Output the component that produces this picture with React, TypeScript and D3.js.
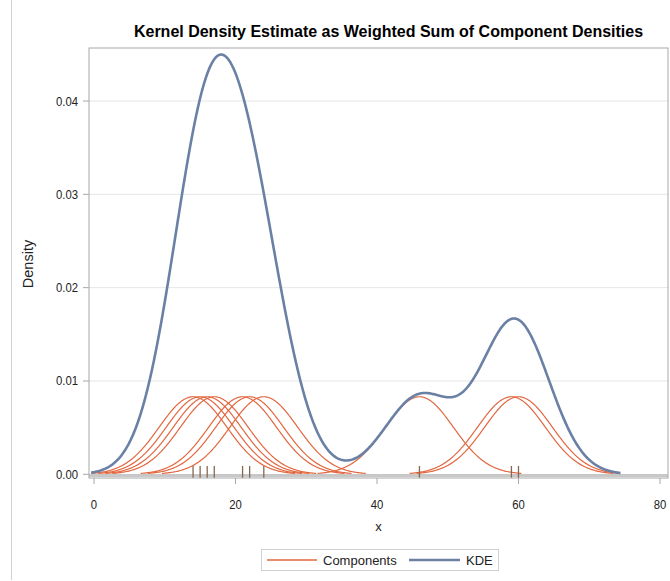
import React from "react";
import * as d3 from "d3";

// Observations (read from the rug)
const observations: number[] = [14, 15, 16, 17, 21, 22, 24, 46, 59, 60];
const bandwidth = 4.8;
const xTicks: number[] = [0, 20, 40, 60, 80];
const yTicks: number[] = [0, 0.01, 0.02, 0.03, 0.04];
const seriesNames: string[] = ["Components", "KDE"];
const title = "Kernel Density Estimate as Weighted Sum of Component Densities";

const W = 670;
const H = 581;
const frame = { left: 89, right: 668, top: 48, bottom: 478 };

const COMP = "#E2673F";
const KDE = "#6B80A5";
const RUG = "#86684E";

function gauss(x: number, mu: number, h: number) {
  const z = (x - mu) / h;
  return Math.exp(-0.5 * z * z) / (h * Math.sqrt(2 * Math.PI));
}

export default function App() {
  const x = d3.scaleLinear().domain([0, 80]).range([94, 660]);
  const y = d3.scaleLinear().domain([0, 0.04]).range([474.3, 101]);
  const n = observations.length;
  const line = d3
    .line<[number, number]>()
    .x((d) => x(d[0]))
    .y((d) => y(d[1]))
    .curve(d3.curveLinear);

  const comps = observations.map((mu) => {
    const lo = mu - 3 * bandwidth;
    const hi = mu + 3 * bandwidth;
    const pts: [number, number][] = d3
      .range(0, 201)
      .map((i) => lo + ((hi - lo) * i) / 200)
      .map((t) => [t, gauss(t, mu, bandwidth) / n]);
    return line(pts) as string;
  });

  const kLo = d3.min(observations)! - 3 * bandwidth;
  const kHi = d3.max(observations)! + 3 * bandwidth;
  const kPts: [number, number][] = d3
    .range(0, 601)
    .map((i) => kLo + ((kHi - kLo) * i) / 600)
    .map((t) => [t, d3.sum(observations, (mu) => gauss(t, mu, bandwidth)) / n]);
  const kdePath = line(kPts) as string;

  const font = "'Liberation Sans', Arial, sans-serif";
  const cx = (frame.left + frame.right) / 2;

  return (
    <svg
      width={W}
      height={H}
      style={{ position: "absolute", left: 0, top: 0, background: "#fff" }}
      fontFamily={font}
    >
      <line x1={11.5} x2={11.5} y1={0} y2={580} stroke="#d0d0d0" strokeWidth={1} />
      <text x={388.5} y={37} textAnchor="middle" fontSize={16} fontWeight="bold" fill="#000">
        {title}
      </text>
      {/* grid */}
      {yTicks.slice(1).map((t) => (
        <line key={t} x1={frame.left} x2={frame.right} y1={y(t)} y2={y(t)} stroke="#e6e6e6" strokeWidth={1} />
      ))}
      {/* baseline reference */}
      <line x1={frame.left} x2={frame.right} y1={475.5} y2={475.5} stroke="#c8c8c8" strokeWidth={3} />
      {/* components */}
      {comps.map((d, i) => (
        <path key={i} d={d} fill="none" stroke={COMP} strokeWidth={1.2} />
      ))}
      {/* KDE */}
      <path d={kdePath} fill="none" stroke={KDE} strokeWidth={2.6} />
      {/* rug */}
      {observations.map((o, i) => (
        <line key={i} x1={x(o)} x2={x(o)} y1={466} y2={478} stroke={RUG} strokeWidth={1.3} />
      ))}
      {/* frame */}
      <rect
        x={frame.left}
        y={frame.top}
        width={frame.right - frame.left}
        height={frame.bottom - frame.top}
        fill="none"
        stroke="#a8a8a8"
        strokeWidth={1}
      />
      {/* x axis */}
      {xTicks.map((t) => (
        <g key={t}>
          <line x1={x(t)} x2={x(t)} y1={frame.bottom} y2={frame.bottom + 6} stroke="#a8a8a8" />
          <text
            transform={`translate(${x(t)},509) scale(0.87,1)`}
            textAnchor="middle"
            fontSize={13}
            fill="#222"
          >
            {d3.format("d")(t)}
          </text>
        </g>
      ))}
      <text x={cx} y={531} textAnchor="middle" fontSize={13} fill="#222">
        x
      </text>
      {/* y axis */}
      {yTicks.map((t) => (
        <g key={t}>
          <line x1={frame.left - 6} x2={frame.left} y1={y(t)} y2={y(t)} stroke="#a8a8a8" />
          <text
            transform={`translate(78,${y(t) + 4.5}) scale(0.87,1)`}
            textAnchor="end"
            fontSize={13}
            fill="#222"
          >
            {d3.format(".2f")(t)}
          </text>
        </g>
      ))}
      <text
        transform={`translate(33,264) rotate(-90)`}
        textAnchor="middle"
        fontSize={14.5}
        fill="#222"
      >
        Density
      </text>
      {/* legend */}
      <rect x={261.5} y={549.5} width={237} height={21} fill="#fff" stroke="#d0d0d0" />
      <line x1={267} x2={317} y1={560} y2={560} stroke={COMP} strokeWidth={1.5} />
      <text x={323} y={565} fontSize={13} fill="#222">
        {seriesNames[0]}
      </text>
      <line x1={409} x2={460} y1={560} y2={560} stroke={KDE} strokeWidth={2.6} />
      <text x={466} y={565} fontSize={13} fill="#222">
        {seriesNames[1]}
      </text>
    </svg>
  );
}
